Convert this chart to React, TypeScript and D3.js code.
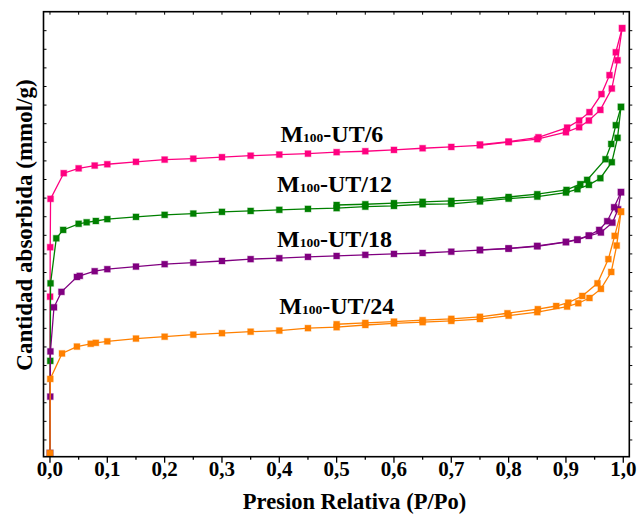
import * as d3 from 'd3';

// relative pressure (P/Po) and adsorbed amount (axis units, one per y tick)
const pinkAdsP = [0, 0.0002, 0.0004, 0.001, 0.024, 0.05, 0.078, 0.1, 0.15, 0.2, 0.25, 0.3, 0.35, 0.4, 0.45, 0.5, 0.55, 0.6, 0.65, 0.7, 0.75, 0.8, 0.85, 0.9, 0.923, 0.94, 0.96, 0.98, 0.99, 0.998];
const pinkAdsV = [0.29, 8.7, 11.36, 13.96, 15.34, 15.6, 15.75, 15.82, 15.95, 16.07, 16.12, 16.2, 16.28, 16.34, 16.39, 16.47, 16.52, 16.59, 16.68, 16.75, 16.84, 17.01, 17.17, 17.54, 17.81, 18.17, 18.74, 19.89, 21.41, 23.13];
const pinkDesP = [0.998, 0.987, 0.976, 0.962, 0.941, 0.923, 0.902, 0.852, 0.8, 0.75];
const pinkDesV = [23.13, 21.84, 20.61, 19.59, 18.62, 18.17, 17.79, 17.27, 17.04, 16.88];

const greenAdsP = [0, 0.0005, 0.001, 0.011, 0.023, 0.05, 0.064, 0.08, 0.1, 0.15, 0.2, 0.25, 0.3, 0.35, 0.4, 0.45, 0.5, 0.55, 0.6, 0.65, 0.7, 0.75, 0.8, 0.85, 0.9, 0.92, 0.94, 0.96, 0.98, 0.99, 0.996];
const greenAdsV = [0.29, 5.25, 9.42, 11.84, 12.29, 12.62, 12.7, 12.77, 12.87, 12.99, 13.1, 13.17, 13.26, 13.31, 13.37, 13.42, 13.46, 13.54, 13.58, 13.67, 13.69, 13.82, 13.97, 14.08, 14.3, 14.48, 14.71, 15.07, 15.93, 17.24, 18.9];
const greenDesP = [0.996, 0.987, 0.979, 0.969, 0.937, 0.925, 0.901, 0.85, 0.8, 0.75, 0.7, 0.65, 0.6, 0.55, 0.5];
const greenDesV = [18.9, 17.92, 16.91, 16.09, 14.98, 14.75, 14.44, 14.21, 14.06, 13.92, 13.85, 13.8, 13.73, 13.67, 13.63];

const purpleAdsP = [0, 0.0005, 0.0008, 0.007, 0.02, 0.047, 0.052, 0.078, 0.1, 0.15, 0.2, 0.25, 0.3, 0.35, 0.4, 0.45, 0.5, 0.55, 0.6, 0.65, 0.7, 0.75, 0.8, 0.85, 0.9, 0.92, 0.94, 0.961, 0.981, 0.991, 0.996];
const purpleAdsV = [0.29, 3.33, 5.76, 8.13, 8.96, 9.76, 9.82, 10.07, 10.18, 10.32, 10.45, 10.53, 10.62, 10.72, 10.77, 10.84, 10.89, 10.95, 11.0, 11.05, 11.12, 11.2, 11.28, 11.41, 11.63, 11.75, 11.97, 12.15, 12.68, 13.4, 14.32];
const purpleDesP = [0.996, 0.984, 0.972, 0.958, 0.94, 0.92, 0.9, 0.85, 0.8, 0.75];
const purpleDesV = [14.32, 13.51, 12.76, 12.29, 11.99, 11.78, 11.65, 11.43, 11.3, 11.22];

const orangeAdsP = [0, 0.0005, 0.021, 0.047, 0.071, 0.08, 0.1, 0.15, 0.2, 0.25, 0.3, 0.35, 0.4, 0.45, 0.5, 0.55, 0.6, 0.65, 0.7, 0.75, 0.8, 0.85, 0.902, 0.9215, 0.941, 0.961, 0.979, 0.9885, 0.996];
const orangeAdsV = [0.29, 4.28, 5.65, 6.02, 6.17, 6.22, 6.3, 6.45, 6.55, 6.66, 6.74, 6.82, 6.88, 7.01, 7.06, 7.18, 7.27, 7.33, 7.4, 7.5, 7.68, 7.87, 8.17, 8.35, 8.63, 9.12, 10.03, 11.45, 13.27];
const orangeDesP = [0.996, 0.985, 0.974, 0.955, 0.9285, 0.904, 0.883, 0.851, 0.798, 0.75, 0.7, 0.65, 0.6, 0.55, 0.5];
const orangeDesV = [13.27, 11.97, 10.72, 9.42, 8.74, 8.38, 8.2, 8.03, 7.81, 7.62, 7.51, 7.44, 7.36, 7.29, 7.22];

const sampleNames = ['UT/6', 'UT/12', 'UT/18', 'UT/24'];
const xTickValues = [0, 0.1, 0.2, 0.3, 0.4, 0.5, 0.6, 0.7, 0.8, 0.9, 1.0];

const W = 639;
const H = 514;
const FONT = '"Liberation Serif", "Times New Roman", serif';

const zip = (p: number[], v: number[]) => p.map((x, i) => [x, v[i]] as [number, number]);

export default function App() {
  const x = d3.scaleLinear().domain([-0.0113, 1.0105]).range([43.5, 629.3]);
  const y = d3.scaleLinear().domain([0.1, 24.02]).range([456.7, 11.7]);
  const [x0, x1] = x.range();
  const [yb, yt] = y.range();

  const series = [
    { color: '#ff0080', ads: zip(pinkAdsP, pinkAdsV), des: zip(pinkDesP, pinkDesV) },
    { color: '#008000', ads: zip(greenAdsP, greenAdsV), des: zip(greenDesP, greenDesV) },
    { color: '#800080', ads: zip(purpleAdsP, purpleAdsV), des: zip(purpleDesP, purpleDesV) },
    { color: '#ff8000', ads: zip(orangeAdsP, orangeAdsV), des: zip(orangeDesP, orangeDesV) },
  ];

  const line = d3
    .line<[number, number]>()
    .x((d) => x(d[0]))
    .y((d) => y(d[1]));

  // label anchors (left edge, baseline) in data units
  const labelAt: [number, number][] = [
    [0.402, 17.04],
    [0.396, 14.33],
    [0.396, 11.38],
    [0.4, 7.75],
  ];

  const minorX = d3.range(0, 1.001, 0.05);
  const yTicks = d3.range(1, 24, 1);

  return (
    <svg
      width={W}
      height={H}
      style={{ position: 'absolute', left: 0, top: 0, background: '#fff' }}
      fontFamily={FONT}
    >
      {/* data */}
      {series.map((s, i) => (
        <g key={i}>
          <path d={line(s.ads) ?? ''} fill="none" stroke={s.color} strokeWidth={1.3} />
          <path d={line(s.des) ?? ''} fill="none" stroke={s.color} strokeWidth={1.3} />
          {[...s.ads, ...s.des].map((d, j) => (
            <rect
              key={j}
              x={x(d[0]) - 3}
              y={y(d[1]) - 3}
              width={6}
              height={6}
              fill={s.color}
              stroke={s.color}
              strokeOpacity={0.3}
              strokeWidth={1.2}
            />
          ))}
        </g>
      ))}

      {/* frame */}
      <rect x={x0} y={yt} width={x1 - x0} height={yb - yt} fill="none" stroke="#000" strokeWidth={1.6} />

      {/* bottom ticks (outward) */}
      {minorX.map((t, i) => {
        const major = Math.abs(t * 10 - Math.round(t * 10)) < 1e-6;
        return (
          <line key={'b' + i} x1={x(t)} x2={x(t)} y1={yb} y2={yb + (major ? 6 : 3)} stroke="#000" strokeWidth={1.3} />
        );
      })}
      {/* top ticks (inward) */}
      {minorX.map((t, i) => (
        <line key={'t' + i} x1={x(t)} x2={x(t)} y1={yt} y2={yt + 3} stroke="#000" strokeWidth={1} />
      ))}
      {/* left ticks (inward) and right ticks (outward) */}
      {yTicks.map((t) => (
        <g key={'y' + t}>
          <line x1={x0} x2={x0 + 3} y1={y(t)} y2={y(t)} stroke="#000" strokeWidth={1} />
          <line x1={x1} x2={x1 + 3} y1={y(t)} y2={y(t)} stroke="#000" strokeWidth={1} />
        </g>
      ))}

      {/* x tick labels */}
      {xTickValues.map((t) => (
        <text key={'xl' + t} x={x(t)} y={475.5} textAnchor="middle" fontSize={21} fontWeight="bold">
          {t.toFixed(1).replace('.', ',')}
        </text>
      ))}

      {/* axis titles */}
      <text x={354.5} y={509} textAnchor="middle" fontSize={22.5} fontWeight="bold">
        Presion Relativa (P/Po)
      </text>
      <text
        transform={`translate(32,${225}) rotate(-90)`}
        textAnchor="middle"
        fontSize={23}
        fontWeight="bold"
      >
        Cantidad absorbida (mmol/g)
      </text>

      {/* sample labels */}
      {sampleNames.map((name, i) => (
        <text key={name} x={x(labelAt[i][0])} y={y(labelAt[i][1])} fontSize={24} fontWeight="bold">
          M<tspan fontSize={13.5}>100</tspan>-{name}
        </text>
      ))}
    </svg>
  );
}
